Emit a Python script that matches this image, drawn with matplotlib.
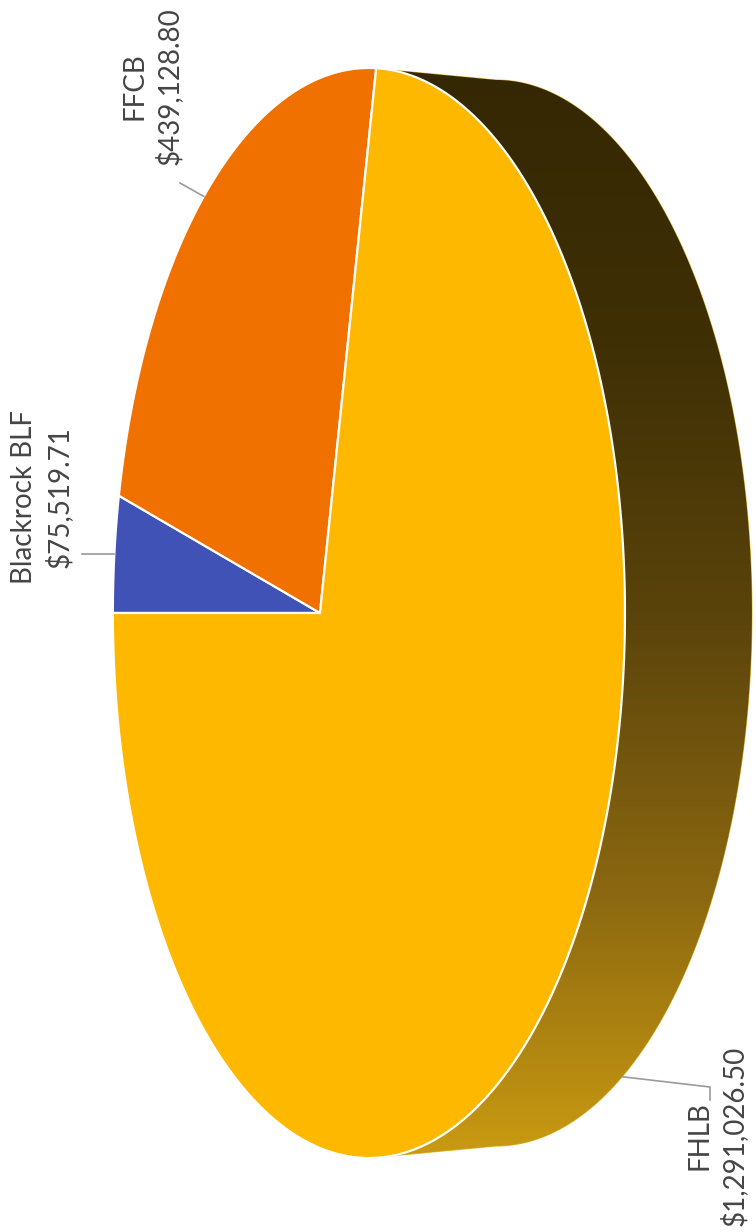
import numpy as np
import matplotlib
matplotlib.use("Agg")
import matplotlib.pyplot as plt
from matplotlib.patches import Polygon
from matplotlib.colors import LinearSegmentedColormap

# data
labels = ["Blackrock BLF", "FFCB", "FHLB"]
values = [75519.71, 439128.80, 1291026.50]
value_text = ["$75,519.71", "$439,128.80", "$1,291,026.50"]
colors = ["#4152b6", "#f07000", "#ffb800"]

# projection of the tilted disc (chart is rotated 90 degrees)
X0, Y0 = 320, 613      # pie centre on the page
A, B = 246.7, 535.0    # scale across / along
T = 0.191              # perspective
DX, SY = 127, 0.978    # depth of the side


def project(theta, bottom=False):
    u, v = np.cos(theta), np.sin(theta)
    w = 1.0 / (1.0 - T * u)
    x = X0 + A * u * w
    y = Y0 - B * v * w
    if bottom:
        x = x + DX
        y = Y0 + (y - Y0) * SY
    return x, y


fig = plt.figure(figsize=(7.56, 12.32), dpi=100)
ax = fig.add_axes([0, 0, 1, 1])
ax.set_xlim(0, 756)
ax.set_ylim(1232, 0)
ax.axis("off")

# side of the cylinder with a vertical gradient
tt = np.arccos(T)
th_top = np.linspace(tt, -tt, 300)
xt, yt = project(th_top)
xb, yb = project(th_top[::-1], bottom=True)
side = Polygon(np.column_stack([np.r_[xt, xb], np.r_[yt, yb]]),
               closed=True, facecolor="none", edgecolor="#e8c040", lw=0.8)
ax.add_patch(side)
grad = LinearSegmentedColormap.from_list(
    "side", ["#342703", "#3e2f05", "#5a430b", "#8a6710", "#cc9c12"])
img = np.linspace(0, 1, 256).reshape(-1, 1)
im = ax.imshow(img, cmap=grad, aspect="auto",
               extent=[340, 760, 1165, 60], zorder=1)
im.set_clip_path(side)

# top face wedges, clockwise from the left
total = sum(values)
start = np.pi
mids = []
for val, col in zip(values, colors):
    span = 2 * np.pi * val / total
    th = np.linspace(start, start - span, max(int(span * 80), 4))
    x, y = project(th)
    pts = np.column_stack([np.r_[X0, x], np.r_[Y0, y]])
    ax.add_patch(Polygon(pts, closed=True, facecolor=col,
                         edgecolor="white", lw=1.6, zorder=3))
    mids.append(start - span / 2)
    start -= span

# leader lines and labels
lc = "#9a9a9a"
fs = 20
font = ["Lato", "DejaVu Sans"]
tkw = dict(rotation=90, ha="center", va="center", multialignment="center",
           fontsize=fs, family=font, color="#454545", linespacing=1.35)

# Blackrock
mx, my = project(mids[0])
ax.plot([mx, 82], [my, my], color=lc, lw=1.2, zorder=4)
ax.text(42, 497, labels[0] + "\n" + value_text[0], **tkw)

# FFCB
mx, my = project(mids[1])
ax.plot([mx, 180], [my, 183], color=lc, lw=1.2, zorder=4)
ax.text(152, 86, labels[1] + "\n" + value_text[1], **tkw)

# FHLB
mx, my = project(mids[2], bottom=True)
ax.plot([mx, 710, 710], [my, 1087, 1100], color=lc, lw=1.2, zorder=4)
ax.text(717, 1136, labels[2] + "\n" + value_text[2], **tkw)

fig.savefig("out.png", dpi=100)
